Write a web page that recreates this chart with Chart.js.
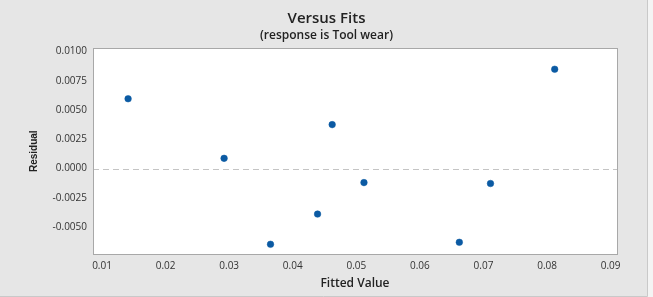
<!DOCTYPE html>
<html>
<head>
<meta charset="utf-8">
<script src="https://cdn.jsdelivr.net/npm/chart.js@4/dist/chart.umd.min.js"></script>
<style>
  html, body { margin: 0; padding: 0; background: #ffffff; }
  canvas { display: block; }
</style>
</head>
<body>
<canvas id="chart" width="653" height="297"></canvas>
<script>
// data
const fittedValues = [0.0141, 0.0292, 0.0365, 0.0439, 0.0462, 0.0512, 0.0662, 0.0711, 0.0812];
const residuals   = [0.00597, 0.00088, -0.00646, -0.00388, 0.00376, -0.00119, -0.00629, -0.00127, 0.00849];
const xTicks = [0.01, 0.02, 0.03, 0.04, 0.05, 0.06, 0.07, 0.08, 0.09];
const yTicks = [-0.005, -0.0025, 0, 0.0025, 0.005, 0.0075, 0.01];

const points = fittedValues.map((x, i) => ({ x: x, y: residuals[i] }));

// gray figure panel + plot box + dashed zero line
const panel = {
  id: 'panel',
  beforeDraw(chart) {
    const ctx = chart.ctx;
    ctx.save();
    ctx.fillStyle = '#f4f4f4';
    ctx.fillRect(0, 0, chart.width, chart.height);
    ctx.fillStyle = '#e6e6e6';
    ctx.fillRect(0, 0, 648, 296);
    ctx.strokeStyle = '#c9c9c9';
    ctx.lineWidth = 1;
    ctx.beginPath();
    ctx.moveTo(647.5, 0);
    ctx.lineTo(647.5, 296.5);
    ctx.lineTo(0, 296.5);
    ctx.stroke();
    const a = chart.chartArea;
    ctx.fillStyle = '#ffffff';
    ctx.fillRect(a.left, a.top, a.right - a.left, a.bottom - a.top);
    ctx.restore();
  },
  beforeDatasetsDraw(chart) {
    const ctx = chart.ctx;
    const a = chart.chartArea;
    const y0 = Math.round(chart.scales.y.getPixelForValue(0)) + 0.5;
    ctx.save();
    ctx.strokeStyle = '#c4c4c4';
    ctx.lineWidth = 1;
    ctx.setLineDash([6, 4]);
    ctx.beginPath();
    ctx.moveTo(a.left, y0);
    ctx.lineTo(a.right, y0);
    ctx.stroke();
    ctx.setLineDash([]);
    ctx.strokeStyle = '#a8a8a8';
    ctx.strokeRect(Math.round(a.left) + 0.5, Math.round(a.top) + 0.5,
      Math.round(a.right - a.left), Math.round(a.bottom - a.top));
    ctx.restore();
  }
};

new Chart(document.getElementById('chart'), {
  type: 'scatter',
  data: {
    datasets: [{
      data: points,
      backgroundColor: '#0b5aa3',
      borderColor: '#0b5aa3',
      pointRadius: 3.3,
      pointHoverRadius: 3.3,
      borderWidth: 0.5
    }]
  },
  options: {
    responsive: false,
    animation: false,
    layout: { padding: 0 },
    plugins: {
      legend: { display: false },
      tooltip: { enabled: false },
      title: {
        display: true,
        text: 'Versus Fits',
        color: '#222222',
        font: { family: 'Open Sans', size: 15, weight: '600' },
        padding: { top: 10, bottom: 0 }
      },
      subtitle: {
        display: true,
        text: '(response is Tool wear)',
        color: '#222222',
        font: { family: 'Open Sans', size: 12, weight: '600' },
        padding: { top: 0, bottom: 6 }
      }
    },
    scales: {
      x: {
        type: 'linear',
        min: 0.00858,
        max: 0.0910,
        afterBuildTicks: (s) => { s.ticks = xTicks.map(v => ({ value: v })); },
        afterFit: (s) => { s.height = 43; },
        grid: { display: false, drawTicks: true, tickLength: 4, tickColor: '#a8a8a8' },
        border: { display: false },
        ticks: {
          padding: 2,
          color: '#333333',
          font: { family: 'Open Sans', size: 10 },
          maxRotation: 0,
          callback: (v) => v.toFixed(2)
        },
        title: {
          display: true,
          text: 'Fitted Value',
          color: '#222222',
          font: { family: 'Open Sans', size: 12, weight: '600' },
          padding: { top: 0, bottom: 6 }
        }
      },
      y: {
        type: 'linear',
        min: -0.00729,
        max: 0.01027,
        afterBuildTicks: (s) => { s.ticks = yTicks.map(v => ({ value: v })); },
        afterFit: (s) => { s.width = 93; },
        grid: { display: false, drawTicks: true, tickLength: 4, tickColor: '#a8a8a8' },
        border: { display: false },
        ticks: {
          padding: 2,
          color: '#333333',
          font: { family: 'Open Sans', size: 10 },
          callback: (v) => v.toFixed(4)
        },
        title: {
          display: true,
          text: 'Residual',
          color: '#222222',
          font: { family: 'Liberation Sans', size: 10, weight: 'bold' },
          padding: { top: 28, bottom: 0 }
        }
      },
      // empty right-hand spacer so the plot box ends where the reference's does
      yRight: {
        type: 'linear',
        position: 'right',
        display: true,
        afterFit: (s) => { s.width = 36; },
        grid: { display: false, drawTicks: false },
        border: { display: false },
        ticks: { display: false }
      }
    }
  },
  plugins: [panel]
});
</script>
</body>
</html>
